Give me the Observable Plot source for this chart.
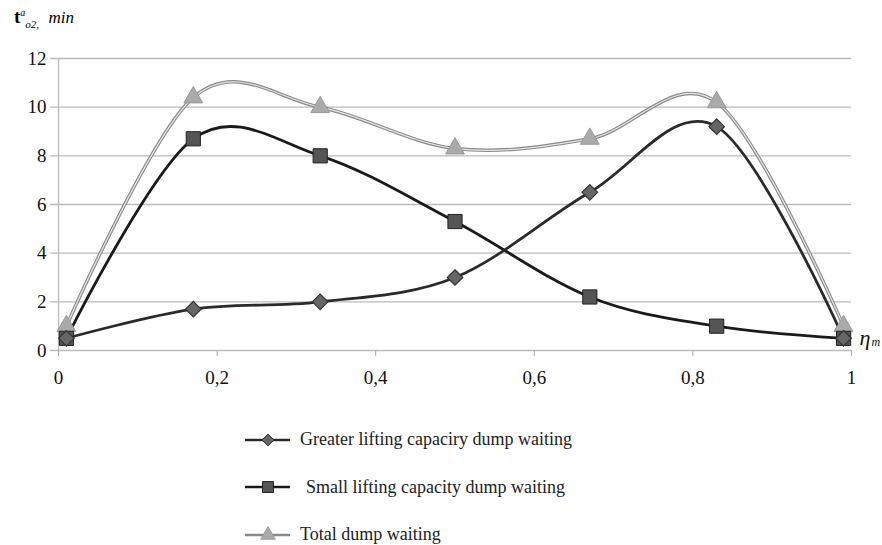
<!DOCTYPE html>
<html><head><meta charset="utf-8">
<script src="https://cdn.jsdelivr.net/npm/d3@7"></script>
<script src="https://cdn.jsdelivr.net/npm/@observablehq/plot@0.6"></script>
<style>
body{margin:0;background:#fff;font-family:"Liberation Serif","DejaVu Serif",serif;}
#wrap{position:relative;width:882px;height:545px;}
#ylab{position:absolute;left:14px;top:6px;font-size:19px;font-family:"Liberation Serif","DejaVu Serif",serif;}
#legend{position:absolute;left:244px;top:416px;font-size:18px;color:#222;font-family:"Liberation Serif","DejaVu Serif",serif;}
.row{height:47.5px;display:flex;align-items:center;}
.row svg{margin-right:8px;}
svg text{font-family:"Liberation Serif","DejaVu Serif",serif;}
</style></head><body>
<div id="wrap">
<div id="ylab"><b>t</b><sup style="font-size:10px;font-style:italic">a</sup><sub style="font-size:11px;font-style:italic">o2,</sub>&nbsp;&nbsp;<i style="font-size:17px">min</i></div>
<div id="chart"></div>
<div id="legend"></div>
</div>
<script>
const etas = [0.01, 0.17, 0.33, 0.5, 0.67, 0.83, 0.99];
const greater = [0.5, 1.7, 2.0, 3.0, 6.5, 9.2, 0.5];
const small = [0.5, 8.7, 8.0, 5.3, 2.2, 1.0, 0.5];
const total = [1.0, 10.4, 10.0, 8.3, 8.7, 10.2, 1.0];
const yTicks = [0, 2, 4, 6, 8, 10, 12];
const xTicks = [0, 0.2, 0.4, 0.6, 0.8, 1];
const seriesNames = ["Greater lifting capaciry dump waiting", "Small lifting capacity dump waiting", "Total dump waiting"];

const G = etas.map((x,i)=>({x, y: greater[i]}));
const S = etas.map((x,i)=>({x, y: small[i]}));
const T = etas.map((x,i)=>({x, y: total[i]}));
const fmt = d => String(d).replace(".", ",");
const serif = "Liberation Serif, DejaVu Serif, serif";

const chart = Plot.plot({
  width: 882, height: 400,
  marginLeft: 58, marginRight: 31, marginTop: 58, marginBottom: 50,
  style: {fontFamily: serif, fontSize: "19px", color: "#111", background: "transparent"},
  x: {domain: [0, 1], label: null},
  y: {domain: [0, 12], label: null},
  marks: [
    Plot.ruleY(yTicks, {x1: -0.01, x2: 1, stroke: "#bbb", strokeWidth: 1.3, clip: false}),
    Plot.ruleX([0], {stroke: "#bbb", strokeWidth: 1.3}),
    Plot.axisX({ticks: xTicks, tickFormat: fmt, tickSize: 6, tickPadding: 14, stroke: "#aaa", fontSize: 19, fontFamily: serif}),
    Plot.axisY({ticks: yTicks, tickSize: 0, tickPadding: 12, fontSize: 19, fontFamily: serif}),
    Plot.lineY(T, {x: "x", y: "y", curve: "cardinal", stroke: "#8a8a8a", strokeWidth: 3.5}),
    Plot.lineY(T, {x: "x", y: "y", curve: "cardinal", stroke: "#e6e6e6", strokeWidth: 1.2}),
    Plot.lineY(S, {x: "x", y: "y", curve: "cardinal", stroke: "#1a1a1a", strokeWidth: 2.8}),
    Plot.lineY(G, {x: "x", y: "y", curve: "cardinal", stroke: "#2a2a2a", strokeWidth: 2.8}),
    Plot.dot(T, {x: "x", y: "y", symbol: "triangle", r: 7, fill: "#aaa", stroke: "#999", strokeWidth: 1}),
    Plot.dot(S, {x: "x", y: "y", symbol: "square", r: 8, fill: "#555", stroke: "#222", strokeWidth: 1}),
    Plot.dot(G, {x: "x", y: "y", symbol: "diamond2", r: 7, fill: "#666", stroke: "#333", strokeWidth: 1.2}),
    Plot.text(["η"], {x: 1, y: 0.5, dx: 8, textAnchor: "start", fontSize: 22, fontStyle: "italic", fontFamily: serif}),
    Plot.text(["m"], {x: 1, y: 0.5, dx: 20, dy: 4, textAnchor: "start", fontSize: 12, fontStyle: "italic", fontFamily: serif})
  ]
});
document.getElementById("chart").appendChild(chart);

const legendDefs = [
  {name: seriesNames[0], line: "#2a2a2a", mark: "diamond", fill: "#666", mstroke: "#333"},
  {name: seriesNames[1], line: "#1a1a1a", mark: "square", fill: "#555", mstroke: "#222"},
  {name: seriesNames[2], line: "#8a8a8a", mark: "triangle", fill: "#aaa", mstroke: "#999"}
];
const lg = d3.select("#legend");
legendDefs.forEach((d, i) => {
  const row = lg.append("div").attr("class", "row");
  const s = row.append("svg").attr("width", 48).attr("height", 20);
  s.append("line").attr("x1", 1).attr("x2", 46).attr("y1", 10).attr("y2", 10).attr("stroke", d.line).attr("stroke-width", 2.5);
  const sym = d.mark === "diamond" ? d3.symbolDiamond2 : d.mark === "square" ? d3.symbolSquare : d3.symbolTriangle;
  const size = d.mark === "square" ? 120 : 90;
  s.append("path").attr("d", d3.symbol(sym, size)()).attr("transform", "translate(24,10)").attr("fill", d.fill).attr("stroke", d.mstroke);
  row.append("span").text(d.name).style("margin-left", i === 1 ? "6px" : "0px");
});
</script>
</body></html>
